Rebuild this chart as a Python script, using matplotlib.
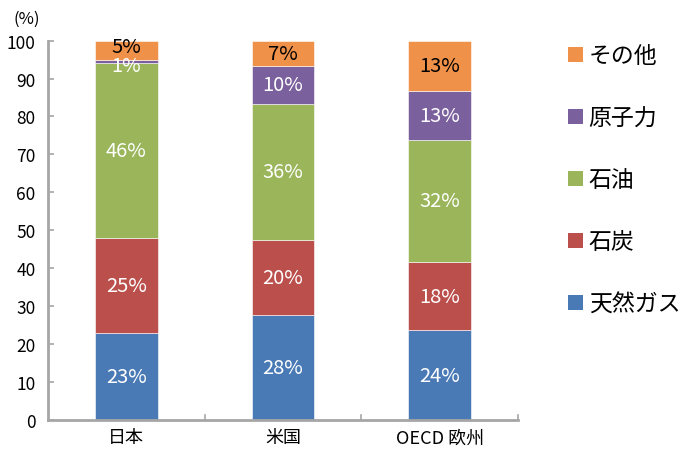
import matplotlib
matplotlib.use("Agg")
import matplotlib.pyplot as plt
from matplotlib.patches import Patch
import numpy as np

plt.rcParams['font.family'] = ['Noto Sans CJK JP', 'DejaVu Sans']

# Primary energy mix by region (%)
regions = ["日本", "米国", "OECD 欧州"]
series_names = ["天然ガス", "石炭", "石油", "原子力", "その他"]
gas = [23.0, 27.6, 23.7]
coal = [25.0, 19.8, 17.9]
oil = [46.0, 36.0, 32.3]
nuclear = [1.0, 9.8, 12.9]
other = [5.0, 6.8, 13.2]
colors = ["#4A7AB5", "#BA4F4C", "#9AB55A", "#7B609E", "#EF9149"]
label_colors = ["white", "white", "white", "white", "black"]
y_ticks = [0, 10, 20, 30, 40, 50, 60, 70, 80, 90, 100]

series = [gas, coal, oil, nuclear, other]

fig = plt.figure(figsize=(6.84, 4.52), dpi=100)
ax = fig.add_axes([0.0702, 0.0686, 0.687, 0.8394])

x = np.arange(len(regions))
bottom = np.zeros(len(regions))
for vals, col, lc, name in zip(series, colors, label_colors, series_names):
    vals = np.array(vals)
    ax.bar(x, vals, width=0.40, bottom=bottom, color=col, label=name,
           edgecolor="white", linewidth=0.4)
    for xi, v, b0 in zip(x, vals, bottom):
        yc = b0 + v / 2
        if v < 2:
            yc = b0 - 0.6
        elif name == "その他" and v < 6:
            yc = b0 + v / 2 + 0.9
        ax.text(xi, yc, f"{v:.0f}%", ha="center", va="center",
                color=lc, fontsize=14.5)
    bottom = bottom + vals

ax.set_xlim(-0.5, 2.5)
ax.set_ylim(0, 100)
ax.set_yticks(y_ticks)
ax.tick_params(axis="y", labelsize=12.5, direction="in", length=4, width=1.2,
               color="#A6A6A6", pad=9)
ax.set_xticks(x)
ax.set_xticklabels(regions, fontsize=13)
ax.tick_params(axis="x", length=0, pad=6)
for xb in [0.5, 1.5, 2.5]:
    ax.plot([xb, xb], [0, 1.2], color="#A6A6A6", lw=1.2, clip_on=False)

for s in ["top", "right"]:
    ax.spines[s].set_visible(False)
for s in ["left", "bottom"]:
    ax.spines[s].set_color("#A6A6A6")
    ax.spines[s].set_linewidth(2)

fig.text(0.02, 0.958, "(%)", fontsize=12, ha="left", va="center")

handles = [Patch(facecolor=c) for c in colors][::-1]
labels = series_names[::-1]
ax.legend(handles, labels, loc="upper left", bbox_to_anchor=(1.087, 1.014),
          frameon=False, fontsize=16.5, handlelength=0.65, handleheight=0.65,
          handletextpad=0.25, labelspacing=1.7, borderaxespad=0)

fig.savefig("out.png", dpi=100)
